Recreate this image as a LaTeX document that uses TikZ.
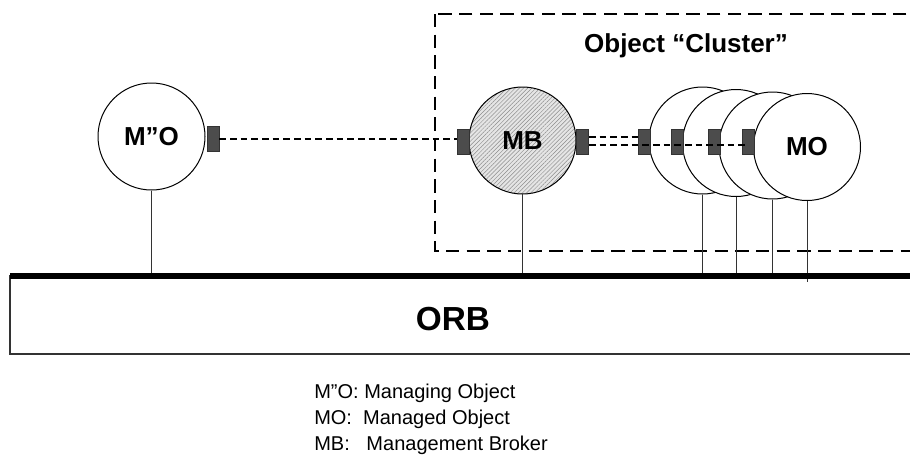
\documentclass[tikz,border=0pt]{standalone}
\usepackage{fontspec}
\setmainfont{Liberation Sans}
\usetikzlibrary{patterns.meta}

\tikzset{
  obj/.style={circle, draw, line width=.75pt, fill=white, minimum size=80.25pt, inner sep=0pt,
    font=\fontsize{19.5}{22}\selectfont\bfseries},
  port/.style={draw=black!80, line width=.5pt, fill=black!70, minimum width=9pt,
    minimum height=18.75pt, inner sep=0pt},
  link/.style={line width=1.2pt, dash pattern=on 5pt off 3pt},
  cluster/.style={line width=1.5pt, dash pattern=on 10pt off 5.5pt},
  stem/.style={line width=.75pt, black!80},
  bar/.style={line width=4.5pt},
  orbbox/.style={line width=1pt, black!80}
}

\begin{document}
\begin{tikzpicture}[x=.75pt, y=-.75pt]
\useasboundingbox (0,0) rectangle (910,454);
\clip (0,0) rectangle (910,454);

% object cluster
\draw[cluster] (435,14) rectangle (940,251);
\node[font=\fontsize{19.5}{22}\selectfont\bfseries, anchor=base] (title) at (686,52) {Object “Cluster”};

% managing object
\node[obj] (mgr) at (151.5,136.5) {M”O};
\node[port] (mgrp) at (213,139) {};

% management broker
\node[obj, preaction={fill=gray!20}, pattern={Lines[angle=45, distance=2.2pt, line width=.35pt]},
  pattern color=gray!90] (mb) at (522.5,140.5) {MB};
\node[port] (mbl) at (463,141.5) {};
\node[port] (mbr) at (582.5,141.5) {};

% managed objects
\foreach \i/\x/\y/\t in {1/702.5/140.5/{}, 2/736/143/{}, 3/772.5/145.5/{}, 4/807/147/MO} {
  \node[obj] (mo\i) at (\x,\y) {\t};
  \node[port, xshift=-3.5pt] (p\i) at (mo\i.west |- mbr) {};
}

% links
\coordinate (up) at ([yshift=3.4pt]mbr.east);
\coordinate (dn) at ([yshift=-2.6pt]mbr.east);
\draw[link] (mgrp.east) -- (mgrp.east -| mbl.west);
\draw[link] (up) -- (up -| p1.west);
\draw[link] (dn) -- (dn -| p4.center);

% stems to the ORB
\coordinate (barl) at (10,276);
\coordinate (barlow) at (10,282);
\foreach \n in {mgr, mb, mo1, mo2, mo3}
  \draw[stem] (\n.south) -- (\n.south |- barl);
\draw[stem] (mo4.south) -- (mo4.south |- barlow);

% ORB
\draw[orbbox] (940,276) -| (10,354) -- (940,354);
\draw[bar] (barl) -- (940,276);
\node[font=\fontsize{25}{30}\selectfont\bfseries] (orb) at (453,319) {ORB};

% key
\node[anchor=north west, align=left, inner sep=0pt, font=\fontsize{15}{19.3}\selectfont] (key) at (314,384)
  {M”O: Managing Object\\MO:\ \ Managed Object\\MB:\ \ \ Management Broker};
\end{tikzpicture}
\end{document}
